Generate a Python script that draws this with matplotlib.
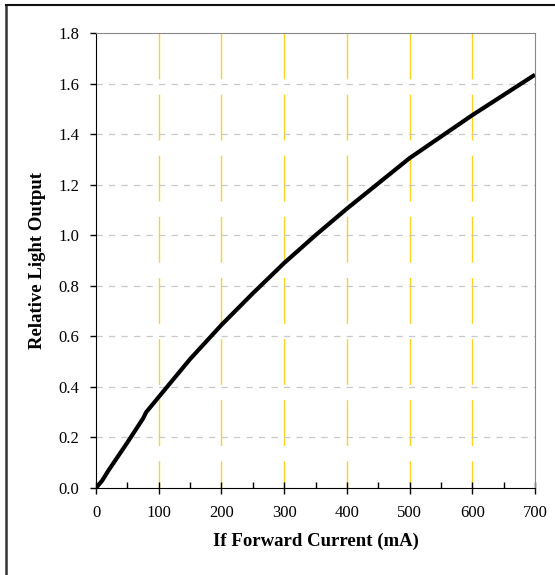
import matplotlib
matplotlib.use("Agg")
import matplotlib.pyplot as plt
from matplotlib.lines import Line2D

# forward current (mA) vs relative light output
current = [0, 10, 20, 50, 75, 80, 100, 150, 200, 250, 300, 350, 400, 450, 500, 550, 600, 650, 700]
light = [0.0, 0.03, 0.07, 0.18, 0.275, 0.30, 0.36, 0.51, 0.645, 0.77, 0.89, 1.0, 1.105, 1.205,
         1.305, 1.39, 1.475, 1.555, 1.635]

xticks = [0, 100, 200, 300, 400, 500, 600, 700]
yticks = [0.0, 0.2, 0.4, 0.6, 0.8, 1.0, 1.2, 1.4, 1.6, 1.8]

plt.rcParams['font.family'] = ['Liberation Serif', 'DejaVu Serif']

fig = plt.figure(figsize=(5.55, 5.75), dpi=100)
ax = fig.add_axes([0.173, 0.1513, 0.791, 0.7913])

# outer frame (left and top edges visible)
fig.add_artist(Line2D([6/555, 6/555], [0, 1 - 5/575], transform=fig.transFigure, color='#333333', lw=1.8))
fig.add_artist(Line2D([6/555, 1], [1 - 5/575, 1 - 5/575], transform=fig.transFigure, color='#111111', lw=1.5))

# grid lines, vertical ones drawn top-down so the dash pattern starts at the top
for x in xticks[1:-1]:
    ax.plot([x, x], [1.8, 0], color='#ffd21f', lw=1.0, dashes=(33, 11), zorder=1)
for y in yticks[1:-1]:
    ax.axhline(y, color='#c8c8c8', lw=0.9, dashes=(5, 5), zorder=1)

ax.plot(current, light, color='black', lw=3, zorder=3, solid_capstyle='butt')

ax.set_xlim(0, 700)
ax.set_ylim(0, 1.8)
ax.set_xticks(xticks)
ax.set_xticks(range(50, 700, 100), minor=True)
ax.set_yticks(yticks)
ax.set_yticklabels(['%.1f' % v for v in yticks])

ax.tick_params(axis='x', which='major', direction='inout', length=8, width=1, labelsize=12, pad=8)
ax.tick_params(axis='x', which='minor', direction='in', length=4, width=1)
ax.tick_params(axis='y', which='major', direction='out', length=4, width=1, labelsize=12, pad=8)

ax.spines['left'].set_color('black')
ax.spines['bottom'].set_color('black')
ax.spines['top'].set_color('#888888')
ax.spines['right'].set_color('#888888')

ax.set_xlabel('If Forward Current (mA)', fontsize=13.5, fontweight='bold', labelpad=9)
ax.set_ylabel('Relative Light Output', fontsize=13.5, fontweight='bold', labelpad=9)

fig.savefig('out.png', dpi=100)
